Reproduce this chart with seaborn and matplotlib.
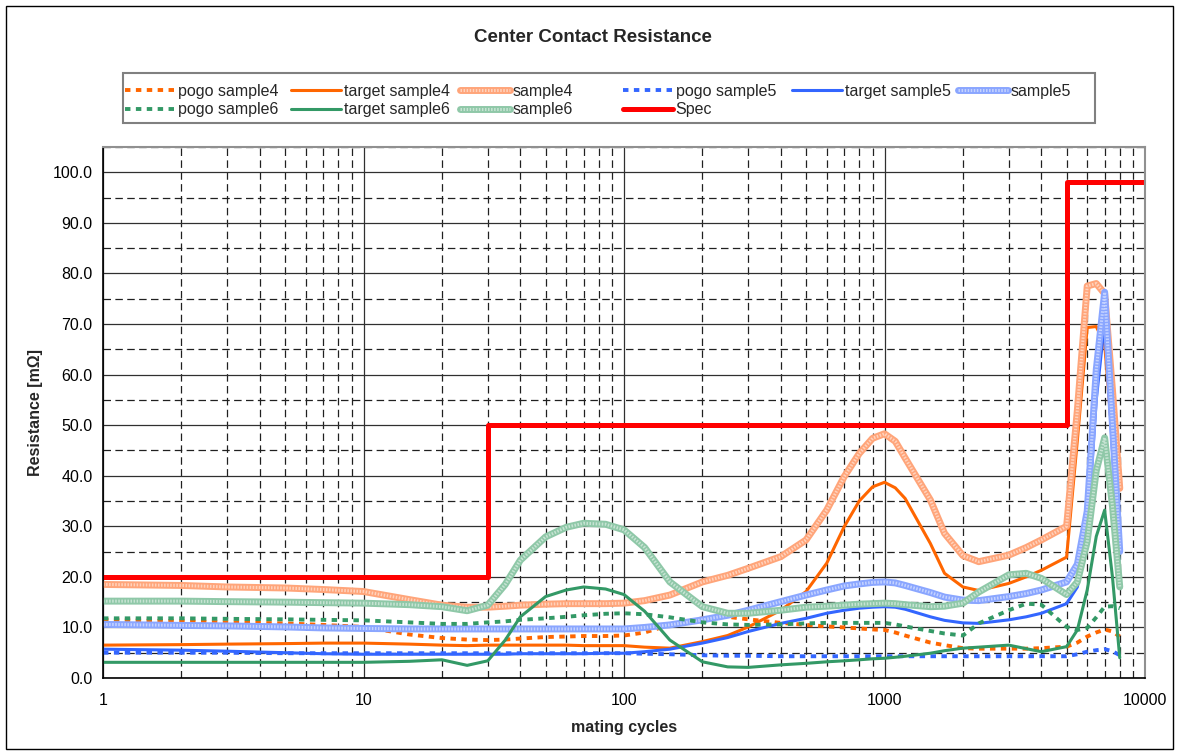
#Script for center contact resistance chart

import matplotlib
matplotlib.use("Agg")
import matplotlib.pyplot as plt
from matplotlib.patches import Rectangle
from matplotlib.ticker import LogLocator, MultipleLocator, NullFormatter, FormatStrFormatter
import seaborn as sns

#Data
cycles = [1, 2, 3, 5, 7, 10, 15, 20, 25, 30, 35, 40, 50, 60, 70, 85, 100, 120, 150, 200,
          250, 300, 400, 500, 600, 700, 800, 900, 1000, 1100, 1200, 1500, 1700, 2000, 2300, 3000, 3500, 4000,
          5000, 5500, 6000, 6500, 7000, 7500, 8000]

pogo4 = [11.5, 11.2, 11.0, 10.8, 10.5, 10.1, 8.6, 7.9, 7.6, 7.5, 7.6, 7.8, 8.1, 8.2, 8.3, 8.3, 8.4, 9.0, 10.5, 11.8,
         12.1, 11.6, 10.9, 10.5, 10.2, 10.0, 9.8, 9.6, 9.5, 9.0, 8.4, 7.0, 6.5, 5.9, 5.8, 5.8, 5.8, 5.9,
         6.2, 7.0, 8.2, 9.0, 9.6, 9.2, 8.2]
target4 = [6.5, 6.6, 6.7, 6.8, 6.9, 6.9, 6.7, 6.5, 6.4, 6.5, 6.5, 6.5, 6.5, 6.5, 6.4, 6.4, 6.4, 6.1, 5.9, 7.2,
           8.4, 10.1, 13.4, 17.1, 22.7, 29.9, 35.0, 37.8, 38.7, 37.6, 35.5, 26.6, 20.7, 18.0, 17.3, 18.7, 20.0, 21.3,
           23.9, 47.0, 69.3, 69.5, 66.0, 47.0, 29.3]
sample4 = [18.5, 18.3, 18.0, 17.8, 17.5, 17.1, 15.5, 14.4, 14.0, 14.0, 14.2, 14.4, 14.6, 14.7, 14.7, 14.7, 14.8, 15.3, 16.4, 19.0,
           20.3, 21.7, 24.0, 27.3, 33.2, 39.8, 44.4, 47.4, 48.3, 46.8, 43.5, 35.2, 28.6, 24.2, 23.0, 24.3, 25.8, 27.3,
           30.0, 53.0, 77.5, 78.0, 76.0, 57.0, 37.5]

pogo5 = [5.0, 5.0, 5.0, 4.9, 4.9, 4.9, 4.9, 4.9, 4.9, 4.9, 4.9, 4.9, 4.9, 4.9, 4.9, 4.9, 4.9, 4.8, 4.7, 4.5,
         4.4, 4.4, 4.3, 4.3, 4.3, 4.3, 4.3, 4.3, 4.3, 4.3, 4.3, 4.3, 4.3, 4.3, 4.3, 4.3, 4.3, 4.3,
         4.3, 4.7, 5.2, 5.5, 5.7, 5.3, 4.5]
target5 = [5.7, 5.5, 5.3, 5.0, 4.8, 4.7, 4.7, 4.7, 4.7, 4.7, 4.7, 4.8, 4.8, 4.8, 4.8, 4.9, 4.9, 5.2, 5.7, 6.9,
           8.0, 9.2, 10.8, 11.8, 12.8, 13.4, 13.8, 14.0, 14.1, 14.0, 13.6, 12.1, 11.4, 10.9, 10.8, 11.5, 12.1, 12.8,
           14.7, 18.0, 28.0, 55.0, 70.5, 45.0, 20.5]
sample5 = [10.6, 10.4, 10.3, 10.1, 9.9, 9.8, 9.7, 9.7, 9.7, 9.7, 9.7, 9.7, 9.7, 9.7, 9.7, 9.7, 9.7, 10.0, 10.5, 11.5,
           12.4, 13.4, 15.1, 16.4, 17.4, 18.2, 18.6, 18.9, 19.0, 18.8, 18.3, 16.9, 16.0, 15.4, 15.3, 16.1, 16.7, 17.4,
           19.0, 22.5, 33.0, 61.0, 76.3, 50.0, 25.0]

pogo6 = [11.8, 11.8, 11.7, 11.6, 11.5, 11.4, 11.0, 10.7, 10.7, 11.0, 11.2, 11.5, 11.8, 12.1, 12.4, 12.7, 12.8, 12.6, 12.0, 11.0,
         10.6, 10.5, 10.6, 10.8, 10.9, 10.9, 10.9, 10.9, 10.9, 10.6, 10.2, 9.3, 8.8, 8.4, 10.8, 13.4, 14.7, 14.5,
         10.1, 9.5, 9.9, 12.0, 14.1, 14.2, 13.8]
target6 = [3.1, 3.1, 3.1, 3.1, 3.1, 3.1, 3.3, 3.6, 2.5, 3.4, 7.5, 12.1, 16.1, 17.4, 18.0, 17.6, 16.5, 13.2, 7.5, 3.2,
           2.2, 2.1, 2.6, 2.9, 3.2, 3.4, 3.6, 3.8, 3.9, 4.1, 4.3, 4.9, 5.4, 5.9, 6.1, 6.5, 5.8, 5.2,
           6.2, 9.5, 17.4, 28.0, 33.2, 20.0, 4.0]
sample6 = [15.2, 15.2, 15.1, 15.0, 14.9, 14.8, 14.5, 14.1, 13.3, 14.4, 18.5, 23.3, 27.9, 29.8, 30.6, 30.4, 29.3, 25.8, 19.0, 14.1,
           12.8, 12.8, 13.4, 14.0, 14.2, 14.4, 14.6, 14.7, 14.8, 14.7, 14.5, 14.1, 14.2, 14.8, 17.0, 20.4, 20.7, 19.7,
           16.5, 19.0, 27.0, 41.0, 47.5, 34.0, 18.0]

spec_x = [1, 30, 30, 5000, 5000, 10000]
spec_y = [20, 20, 50, 50, 98, 98]

xtick_labels = ["1", "10", "100", "1000", "10000"]

ORANGE = "#FF6600"
BLUE = "#3366FF"
GREEN = "#339966"
LIGHT = {"sample4": "#FFA57A", "sample5": "#8AA6FF", "sample6": "#8FC8A8"}

sns.set_style("white")
plt.rcParams["font.family"] = ["Liberation Sans", "DejaVu Sans"]

W, H = 1179, 755
fig = plt.figure(figsize=(W / 100, H / 100), dpi=100)
ax = fig.add_axes([103 / W, 1 - 678 / H, (1145 - 103) / W, (678 - 147) / H])

handles = {}

def pogo_line(y, color, name):
    sns.lineplot(x=cycles, y=y, ax=ax, color=color, lw=2.8, ls=(0, (1.4, 1.4)),
                 estimator=None, sort=False)
    handles[name] = ax.lines[-1]

def target_line(y, color, name):
    sns.lineplot(x=cycles, y=y, ax=ax, color=color, lw=2.2, estimator=None, sort=False)
    handles[name] = ax.lines[-1]

def sample_line(y, name):
    #thick light band with a fine white dotted texture on top
    sns.lineplot(x=cycles, y=y, ax=ax, color=LIGHT[name], lw=5.0, estimator=None, sort=False)
    base = ax.lines[-1]
    sns.lineplot(x=cycles, y=y, ax=ax, color="white", lw=2.2, ls=(0, (0.5, 0.5)), alpha=0.5,
                 estimator=None, sort=False)
    handles[name] = (base, ax.lines[-1])

pogo_line(pogo4, ORANGE, "pogo sample4")
target_line(target4, ORANGE, "target sample4")
sample_line(sample4, "sample4")
pogo_line(pogo5, BLUE, "pogo sample5")
target_line(target5, BLUE, "target sample5")
sample_line(sample5, "sample5")
pogo_line(pogo6, GREEN, "pogo sample6")
target_line(target6, GREEN, "target sample6")
sample_line(sample6, "sample6")

sns.lineplot(x=spec_x, y=spec_y, ax=ax, color="#FF0000", lw=3.6, estimator=None, sort=False)
handles["Spec"] = ax.lines[-1]

#Axes, ticks and grid
ax.set_xscale("log")
ax.set_xlim(1, 10000)
ax.set_ylim(0, 105)
ax.set_xticks([1, 10, 100, 1000, 10000])
ax.set_xticklabels(xtick_labels)
ax.xaxis.set_minor_locator(LogLocator(base=10, subs=range(2, 10)))
ax.xaxis.set_minor_formatter(NullFormatter())
ax.set_yticks(list(range(0, 101, 10)))
ax.yaxis.set_major_formatter(FormatStrFormatter("%.1f"))
ax.yaxis.set_minor_locator(MultipleLocator(5))
ax.tick_params(axis="both", which="major", direction="out", length=4.5, width=1,
               labelsize=11.5, colors="black")
ax.tick_params(axis="x", which="major", pad=6)
ax.tick_params(axis="y", which="major", pad=3)
ax.tick_params(axis="both", which="minor", length=0)

ax.grid(True, which="major", color="#303030", lw=0.9, ls="-")
ax.grid(True, which="minor", color="#202020", lw=0.9, ls=(0, (6, 3.5)))
ax.set_axisbelow(True)

for side in ["top", "right"]:
    ax.spines[side].set_color("#909090")
    ax.spines[side].set_linewidth(1.5)
for side in ["left", "bottom"]:
    ax.spines[side].set_color("black")
    ax.spines[side].set_linewidth(1.2)

ax.set_xlabel("mating cycles", fontsize=11.5, fontweight="bold", labelpad=9)
ax.set_ylabel("Resistance [mΩ]", fontsize=11.5, fontweight="bold", labelpad=7)

fig.text(593 / W, 1 - 38 / H, "Center Contact Resistance", fontsize=13.5,
         fontweight="bold", ha="center", va="center")

#Legend: Excel style even columns, one small legend per column inside a common frame
columns = [["pogo sample4", "pogo sample6"], ["target sample4", "target sample6"],
           ["sample4", "sample6"], ["pogo sample5", "Spec"], ["target sample5"], ["sample5"]]
col_x = [125, 291, 460, 623, 792, 958]
for names, cx in zip(columns, col_x):
    leg = fig.legend([handles[k] for k in names], names, loc="upper left",
                     bbox_to_anchor=(cx / W, 1 - 84 / H), bbox_transform=fig.transFigure,
                     frameon=False, fontsize=11.5, handlelength=3.1, handletextpad=0.2,
                     labelspacing=0.2, borderpad=0, borderaxespad=0)
fig.patches.append(Rectangle((123 / W, 1 - 123 / H), (1095 - 123) / W, 50 / H,
                             transform=fig.transFigure, fill=False, edgecolor="#808080", lw=1.5))

fig.patches.append(Rectangle((6 / W, 6 / H), 1167 / W, 743 / H, transform=fig.transFigure,
                             fill=False, edgecolor="black", lw=1.0))

fig.savefig("out.png", dpi=100, facecolor="white")
print("saved out.png")
